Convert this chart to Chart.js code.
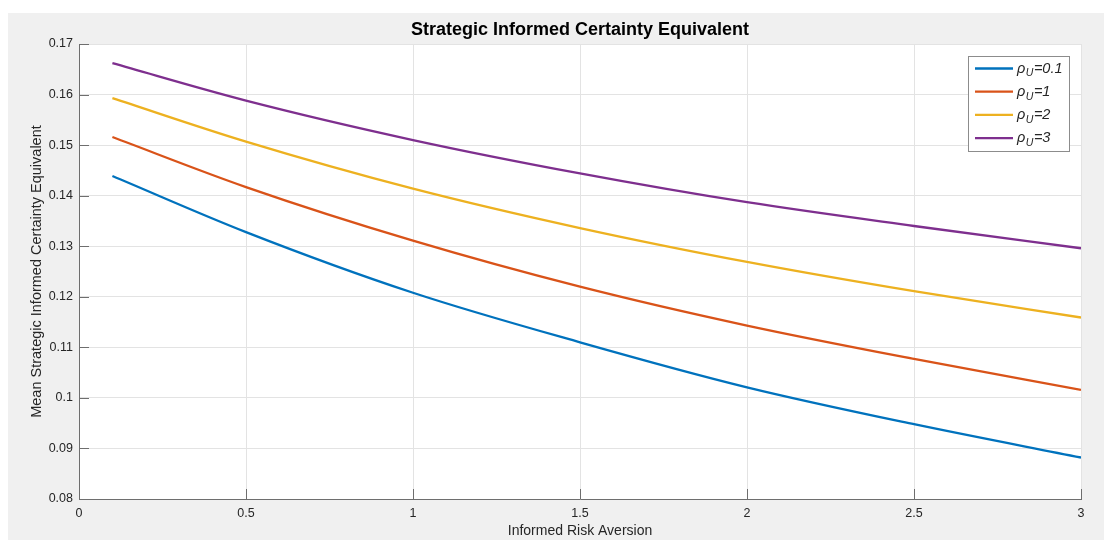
<!DOCTYPE html>
<html>
<head>
<meta charset="utf-8">
<script src="https://cdn.jsdelivr.net/npm/chart.js@4.4.1/dist/chart.umd.min.js"></script>
<style>
  html, body { margin: 0; padding: 0; background: #ffffff; }
  #wrap { width: 1104px; height: 544px; position: relative; }
</style>
</head>
<body>
<div id="wrap"><canvas id="chart" width="1104" height="544"></canvas></div>
<script>
// Informed risk aversion (x) and mean strategic informed certainty equivalent per rho_U
const riskAversion = [0.1, 0.5, 1, 1.5, 2, 2.5, 3];
const ceRho01 = [0.1439, 0.1328, 0.1208, 0.1110, 0.1021, 0.0948, 0.0882];
const ceRho1  = [0.1516, 0.1417, 0.1311, 0.1220, 0.1143, 0.1077, 0.1016];
const ceRho2  = [0.1593, 0.1507, 0.1414, 0.1336, 0.1269, 0.1211, 0.1159];
const ceRho3  = [0.1662, 0.1588, 0.1510, 0.1444, 0.1387, 0.1340, 0.1296];
const rhoLabels = ['0.1', '1', '2', '3'];
const xTicks = [0, 0.5, 1, 1.5, 2, 2.5, 3];
const yTicks = [0.08, 0.09, 0.10, 0.11, 0.12, 0.13, 0.14, 0.15, 0.16, 0.17];

const seriesColors = ['#0072BD', '#D95319', '#EDB120', '#7E2F8E'];
const seriesValues = [ceRho01, ceRho1, ceRho2, ceRho3];
const axisColor = '#6e6e6e';
const textColor = '#262626';
const FONT = '"Liberation Sans", Arial, Helvetica, sans-serif';

const datasets = seriesValues.map((vals, i) => ({
  label: 'rho_U=' + rhoLabels[i],
  data: riskAversion.map((x, j) => ({ x: x, y: vals[j] })),
  borderColor: seriesColors[i],
  backgroundColor: seriesColors[i],
  borderWidth: 2.3,
  pointRadius: 0,
  cubicInterpolationMode: 'monotone',
  fill: false
}));

// figure background: white page, grey figure panel, white axes
const panelPlugin = {
  id: 'panel',
  beforeDraw(chart) {
    const { ctx, chartArea: a } = chart;
    ctx.save();
    ctx.fillStyle = '#ffffff';
    ctx.fillRect(0, 0, chart.width, chart.height);
    ctx.fillStyle = '#f0f0f0';
    ctx.fillRect(8, 13, chart.width - 8, 527);
    ctx.fillStyle = '#ffffff';
    ctx.fillRect(a.left, a.top, a.right - a.left, a.bottom - a.top);
    ctx.restore();
  }
};

// inward tick marks on the left and bottom axes
const innerTicksPlugin = {
  id: 'innerTicks',
  afterDatasetsDraw(chart) {
    const { ctx, chartArea: a, scales } = chart;
    const len = 10;
    ctx.save();
    ctx.strokeStyle = axisColor;
    ctx.lineWidth = 1;
    ctx.beginPath();
    scales.x.ticks.forEach(t => {
      const px = Math.round(scales.x.getPixelForValue(t.value)) + 0.5;
      ctx.moveTo(px, a.bottom);
      ctx.lineTo(px, a.bottom - len);
    });
    scales.y.ticks.forEach(t => {
      const py = Math.round(scales.y.getPixelForValue(t.value)) + 0.5;
      ctx.moveTo(a.left, py);
      ctx.lineTo(a.left + len, py);
    });
    ctx.stroke();
    ctx.restore();
  }
};

// boxed legend with subscripted rho_U labels
const rhoLegendPlugin = {
  id: 'rhoLegend',
  afterDraw(chart) {
    const { ctx, chartArea: a } = chart;
    const boxW = 101, boxH = 95;
    const left = a.right - 12 - boxW;
    const top = a.top + 12;
    ctx.save();
    ctx.fillStyle = '#ffffff';
    ctx.fillRect(left, top, boxW, boxH);
    ctx.strokeStyle = '#8c8c8c';
    ctx.lineWidth = 1;
    ctx.strokeRect(Math.round(left) + 0.5, Math.round(top) + 0.5, boxW, boxH);
    chart.data.datasets.forEach((ds, i) => {
      const cy = top + 12.5 + i * 23.2;
      ctx.strokeStyle = ds.borderColor;
      ctx.lineWidth = 2.3;
      ctx.beginPath();
      ctx.moveTo(left + 7, cy);
      ctx.lineTo(left + 45, cy);
      ctx.stroke();
      let tx = left + 49;
      ctx.fillStyle = textColor;
      ctx.textBaseline = 'middle';
      ctx.textAlign = 'left';
      ctx.font = 'italic 14.5px ' + FONT;
      ctx.fillText('\u03C1', tx, cy);
      tx += ctx.measureText('\u03C1').width + 0.5;
      ctx.font = 'italic 10.5px ' + FONT;
      ctx.fillText('U', tx, cy + 5);
      tx += ctx.measureText('U').width + 0.5;
      ctx.font = 'italic 14.5px ' + FONT;
      ctx.fillText('=' + rhoLabels[i], tx, cy);
    });
    ctx.restore();
  }
};

const fmt = v => String(+Number(v).toFixed(2));

new Chart(document.getElementById('chart'), {
  type: 'line',
  data: { datasets: datasets },
  plugins: [panelPlugin, innerTicksPlugin, rhoLegendPlugin],
  options: {
    responsive: false,
    animation: false,
    devicePixelRatio: 1,
    layout: { padding: { top: 0, left: 0, right: 23, bottom: 0 } },
    plugins: {
      legend: { display: false },
      tooltip: { enabled: false },
      title: {
        display: true,
        text: 'Strategic Informed Certainty Equivalent',
        fullSize: false,
        color: '#000000',
        font: { family: FONT, size: 18, weight: 'bold' },
        padding: { top: 19.2, bottom: 3.2 }
      }
    },
    scales: {
      x: {
        type: 'linear',
        min: 0,
        max: 3,
        afterBuildTicks: s => { s.ticks = xTicks.map(v => ({ value: v })); },
        afterFit: s => { s.height = 45; },
        ticks: {
          color: textColor,
          font: { family: FONT, size: 12.5 },
          padding: 7.5,
          maxRotation: 0,
          callback: v => fmt(v)
        },
        grid: { color: '#e3e3e3', drawTicks: false, lineWidth: 1 },
        border: { display: true, color: axisColor, width: 1 },
        title: {
          display: true,
          text: 'Informed Risk Aversion',
          color: textColor,
          font: { family: FONT, size: 14 },
          padding: { top: 0, bottom: 4.6 }
        }
      },
      y: {
        type: 'linear',
        min: 0.08,
        max: 0.17,
        afterBuildTicks: s => { s.ticks = yTicks.map(v => ({ value: v })); },
        afterFit: s => { s.width = 79; },
        ticks: {
          color: textColor,
          font: { family: FONT, size: 12.5 },
          padding: 6,
          callback: v => fmt(v)
        },
        grid: { color: '#e3e3e3', drawTicks: false, lineWidth: 1 },
        border: { display: true, color: axisColor, width: 1 },
        title: {
          display: true,
          text: 'Mean Strategic Informed Certainty Equivalent',
          color: textColor,
          font: { family: FONT, size: 14.5 },
          padding: { top: 28.3, bottom: 0 }
        }
      }
    }
  }
});
</script>
</body>
</html>
